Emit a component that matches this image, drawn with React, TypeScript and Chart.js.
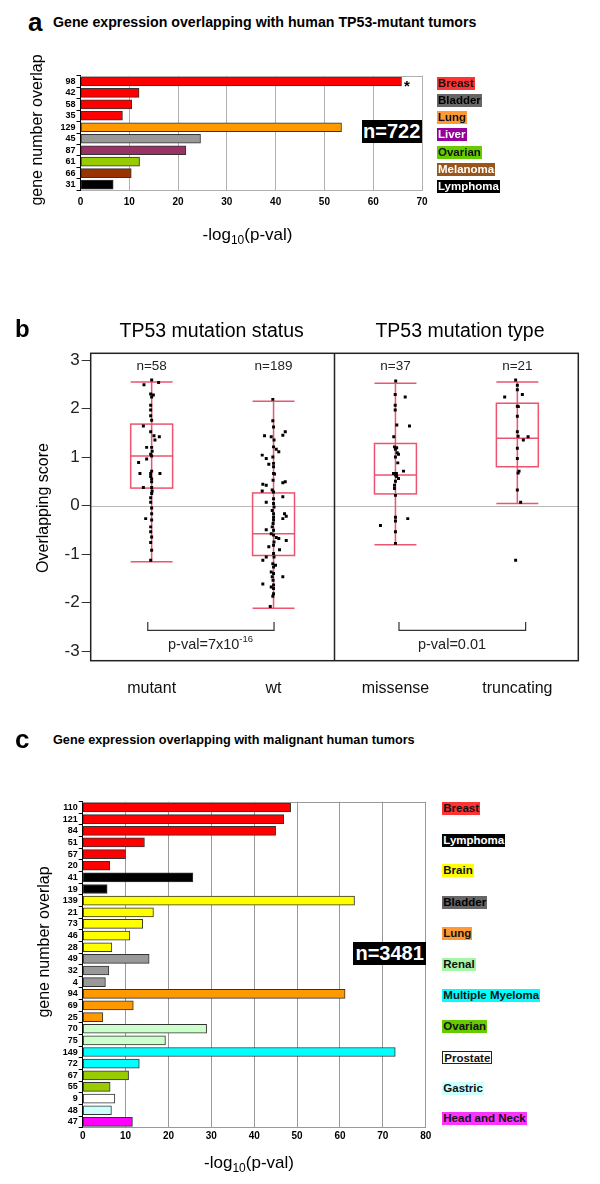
import React, { useEffect, useRef } from 'react';
import { Chart, registerables } from 'chart.js';

Chart.register(...registerables);

const FONT = '"Liberation Sans", Arial, Helvetica, sans-serif';

// ---------------- Panel a data ----------------
const aTitle = 'Gene expression overlapping with human TP53-mutant tumors';
const aOverlap = [98, 42, 58, 35, 129, 45, 87, 61, 66, 31];
const aLogP = [65.8, 12.0, 10.5, 8.6, 53.5, 24.6, 21.6, 12.1, 10.4, 6.7];
const aTumor = ['Breast', 'Breast', 'Breast', 'Breast', 'Lung', 'Bladder', 'Liver', 'Ovarian', 'Melanoma', 'Lymphoma'];
const aLegend = ['Breast', 'Bladder', 'Lung', 'Liver', 'Ovarian', 'Melanoma', 'Lymphoma'];
const aTotal = 'n=722';
const aXMax = 70;

// ---------------- Panel b data ----------------
const bGroupTitles = ['TP53 mutation status', 'TP53 mutation type'];
const bCategories = ['mutant', 'wt', 'missense', 'truncating'];
const bCounts = ['n=58', 'n=189', 'n=37', 'n=21'];
const bWhiskerLow = [-1.16, -2.12, -0.81, 0.04];
const bQ1 = [0.36, -1.03, 0.24, 0.8];
const bMedian = [1.02, -0.58, 0.63, 1.39];
const bQ3 = [1.68, 0.26, 1.28, 2.11];
const bWhiskerHigh = [2.55, 2.15, 2.52, 2.55];
const bYTicks = [3, 2, 1, 0, -1, -2, -3];
const bPLeft = 'p-val=7x10';
const bPLeftExp = '-16';
const bPRight = 'p-val=0.01';

const bMutantScores = [2.59, 2.54, 2.49, 2.3, 2.28, 2.24, 2.07, 1.97, 1.85, 1.64, 1.52, 1.44, 1.42, 1.35, 1.2, 1.2, 1.06, 1.02, 0.96, 0.89, 0.71, 0.66, 0.66, 0.66, 0.6, 0.49, 0.37, 0.37, 0.25, 0.16, 0.07, -0.17, -0.27, -0.3, -0.44, -0.54, -0.76, -1.13, 1.76, 1.12, 0.55, 0.3, -0.05, -0.65, -0.92];
const bMutantJitter = [0, 0.057, -0.063, -0.008, 0.014, 0, -0.008, -0.008, -0.008, -0.068, -0.008, 0.019, 0.063, 0.027, -0.041, 0, -0.008, 0, -0.041, -0.107, 0, -0.008, -0.096, 0.068, -0.008, 0, -0.068, 0, 0, -0.008, -0.008, 0, -0.049, 0, -0.008, -0.008, -0.008, -0.008, 0, 0.004, 0, 0.004, 0, 0, 0];

const bWtScores = [2.19, 1.75, 1.44, 1.42, 1.45, 1.52, 1.21, 1.16, 1.11, 1.04, 0.97, 1.0, 0.87, 0.85, 0.66, 0.65, 0.44, 0.42, 0.47, 0.49, 0.32, 0.28, 0.3, 0.18, 0.07, 0.04, -0.1, -0.17, -0.17, -0.22, -0.27, -0.3, -0.44, -0.5, -0.58, -0.61, -0.66, -0.68, -0.72, -0.85, -0.91, -0.99, -1.06, -1.13, -1.2, -1.23, -1.37, -1.4, -1.47, -1.47, -1.62, -1.64, -1.68, -1.82, -1.87, -2.08, 1.62, 1.35, 0.8, 0.52, 0.14, -0.03, -0.24, -0.37, -0.51, -0.75, -0.82, -1.06, -1.27, -1.54, -1.71];
const bWtJitter = [-0.006, -0.006, -0.074, -0.019, 0.076, 0.096, 0, 0.022, 0.043, -0.093, -0.06, -0.006, 0, -0.039, 0, 0.008, -0.088, -0.06, 0.076, 0.096, -0.011, 0, -0.093, 0.076, -0.06, 0, -0.011, 0, 0.09, 0.104, 0.076, 0, -0.011, -0.06, -0.019, 0, 0.022, 0.043, 0.104, -0.039, 0.049, 0, -0.06, -0.088, -0.006, 0.016, -0.019, 0, -0.011, 0.076, -0.088, 0, -0.019, 0, -0.006, -0.027, 0, 0.004, 0, -0.004, 0, 0.004, 0, -0.004, 0, 0.004, 0, 0.004, 0, -0.004, 0];

const bMissenseScores = [2.57, 2.24, 2.29, 2.07, 1.97, 1.66, 1.64, 1.42, 1.21, 1.16, 1.09, 1.06, 1.0, 0.88, 0.71, 0.66, 0.63, 0.56, 0.42, 0.35, 0.21, -0.24, -0.32, -0.27, -0.41, -0.54, -0.78, 0.66, 0.5, 1.19, 0.6];
const bMissenseJitter = [0.002, 0.08, -0.002, -0.002, -0.002, 0.011, 0.115, -0.014, -0.008, 0, 0.014, 0.025, 0, 0.019, 0.066, -0.016, 0, 0.025, -0.008, -0.008, 0, 0, 0, 0.101, -0.123, 0, 0, 0.008, 0, 0.01, 0.01];

const bTruncScores = [2.59, 2.48, 2.39, 2.24, 2.29, 2.05, 2.04, 1.84, 1.52, 1.43, 1.35, 1.42, 1.18, 0.97, 0.71, 0.67, 0.32, 0.07, -1.13];
const bTruncJitter = [-0.014, 0, 0, -0.104, 0.041, 0, 0.008, 0, 0, 0.006, 0.049, 0.088, 0, 0, 0.014, 0.006, 0, 0.027, -0.014];

const bScores = [bMutantScores, bWtScores, bMissenseScores, bTruncScores];
const bJitter = [bMutantJitter, bWtJitter, bMissenseJitter, bTruncJitter];

// ---------------- Panel c data ----------------
const cTitle = 'Gene expression overlapping with malignant human tumors';
const cOverlap = [110, 121, 84, 51, 57, 20, 41, 19, 139, 21, 73, 46, 28, 49, 32, 4, 94, 69, 25, 70, 75, 149, 72, 67, 55, 9, 48, 47];
const cLogP = [48.5, 46.9, 45.0, 14.4, 10.0, 6.3, 25.7, 5.7, 63.4, 16.5, 14.0, 11.0, 6.8, 15.5, 6.1, 5.3, 61.2, 11.8, 4.7, 28.9, 19.3, 72.9, 13.2, 10.7, 6.4, 7.5, 6.7, 11.6];
const cTumor = ['Breast', 'Breast', 'Breast', 'Breast', 'Breast', 'Breast', 'Lymphoma', 'Lymphoma', 'Brain', 'Brain', 'Brain', 'Brain', 'Brain', 'Bladder', 'Bladder', 'Bladder', 'Lung', 'Lung', 'Lung', 'Renal', 'Renal', 'Multiple Myeloma', 'Multiple Myeloma', 'Ovarian', 'Ovarian', 'Prostate', 'Gastric', 'Head and Neck'];
const cLegend = ['Breast', 'Lymphoma', 'Brain', 'Bladder', 'Lung', 'Renal', 'Multiple Myeloma', 'Ovarian', 'Prostate', 'Gastric', 'Head and Neck'];
const cTotal = 'n=3481';
const cXMax = 80;

const yAxisTitle = 'gene number overlap';
const bYAxisTitle = 'Overlapping score';

// ---------------- styles ----------------
const BAR_COLOR: Record<string, string> = {
  Breast: '#ff0000', Lung: '#ff9900', Bladder: '#999999', Liver: '#993366', Ovarian: '#99cc00',
  Melanoma: '#993300', Lymphoma: '#000000', Brain: '#ffff00', Renal: '#ccffcc',
  'Multiple Myeloma': '#00ffff', Prostate: '#ffffff', Gastric: '#ccffff', 'Head and Neck': '#ff00ff',
};
const TAG_STYLE: Record<string, { bg: string; color: string; border?: string }> = {
  Breast: { bg: '#ff3333', color: '#111' },
  Bladder: { bg: '#666666', color: '#000' },
  Lung: { bg: '#ff9933', color: '#111' },
  Liver: { bg: '#990099', color: '#fff' },
  Ovarian: { bg: '#66cc00', color: '#111' },
  Melanoma: { bg: '#99561a', color: '#fff' },
  Lymphoma: { bg: '#000000', color: '#fff' },
  Brain: { bg: '#ffff00', color: '#111' },
  Renal: { bg: '#a6f5a6', color: '#111' },
  'Multiple Myeloma': { bg: '#00ffff', color: '#111' },
  Prostate: { bg: '#ffffff', color: '#111', border: '1px solid #222' },
  Gastric: { bg: '#ccffff', color: '#111' },
  'Head and Neck': { bg: '#ff33ff', color: '#111' },
};
const BOX_COLOR = '#ec5470';

const topBorderPlugin = {
  id: 'topBorder',
  afterDraw(chart: any) {
    const { ctx, chartArea: a } = chart;
    ctx.save();
    ctx.strokeStyle = chart.options.plugins.topBorder.color;
    ctx.lineWidth = 1;
    ctx.beginPath();
    ctx.moveTo(a.left, Math.round(a.top) + 0.5);
    ctx.lineTo(a.right, Math.round(a.top) + 0.5);
    ctx.stroke();
    ctx.restore();
  },
};

function makeBarChart(
  canvas: HTMLCanvasElement, labels: number[], values: number[], colors: string[], xMax: number,
  padTop: number, padRight: number, yWidth: number, xHeight: number, tickPad: number, gridColor: string,
) {
  return new Chart(canvas, {
    type: 'bar',
    data: {
      labels: labels.map(String),
      datasets: [{
        data: values, backgroundColor: colors, borderColor: '#333', borderWidth: 1,
        borderSkipped: false, barThickness: 9,
      }],
    },
    options: {
      indexAxis: 'y', responsive: false, animation: false, devicePixelRatio: 1,
      layout: { padding: { left: 0, top: padTop, right: padRight, bottom: 0 } },
      plugins: { legend: { display: false }, tooltip: { enabled: false }, topBorder: { color: gridColor } } as any,
      scales: {
        x: {
          min: 0, max: xMax,
          ticks: { stepSize: 10, color: '#000', padding: tickPad, font: { family: FONT, size: 10, weight: 'bold' } },
          grid: { color: gridColor, drawTicks: false },
          border: { color: gridColor },
          afterFit: (s: any) => { s.height = xHeight; },
        },
        y: {
          ticks: { color: '#000', padding: 1, autoSkip: false, font: { family: FONT, size: 9, weight: 'bold' } },
          grid: { drawOnChartArea: false, tickLength: 4, color: '#000' },
          border: { color: '#000' },
          afterFit: (s: any) => { s.width = yWidth; },
        },
      },
    } as any,
    plugins: [topBorderPlugin],
  });
}

const BOX_HALF = 0.172;

const boxPlugin = {
  id: 'boxes',
  beforeDatasetsDraw(chart: any) {
    const { ctx, chartArea: a, scales } = chart;
    const x = scales.x, y = scales.y;
    ctx.save();
    const y0 = Math.round(y.getPixelForValue(0)) + 0.5;
    ctx.strokeStyle = '#b8b8b8';
    ctx.lineWidth = 1;
    ctx.beginPath(); ctx.moveTo(a.left, y0); ctx.lineTo(a.right, y0); ctx.stroke();
    ctx.strokeStyle = BOX_COLOR;
    ctx.lineWidth = 1.5;
    bCategories.forEach((_, i) => {
      const cx = x.getPixelForValue(i);
      const l = x.getPixelForValue(i - BOX_HALF);
      const r = x.getPixelForValue(i + BOX_HALF);
      const py = (v: number) => y.getPixelForValue(v);
      ctx.beginPath();
      ctx.moveTo(cx, py(bWhiskerHigh[i])); ctx.lineTo(cx, py(bWhiskerLow[i]));
      ctx.moveTo(l, py(bWhiskerHigh[i])); ctx.lineTo(r, py(bWhiskerHigh[i]));
      ctx.moveTo(l, py(bWhiskerLow[i])); ctx.lineTo(r, py(bWhiskerLow[i]));
      ctx.moveTo(l, py(bMedian[i])); ctx.lineTo(r, py(bMedian[i]));
      ctx.stroke();
      ctx.strokeRect(l, py(bQ3[i]), r - l, py(bQ1[i]) - py(bQ3[i]));
    });
    ctx.restore();
  },
  afterDraw(chart: any) {
    const { ctx, chartArea: a, scales } = chart;
    const x = scales.x, y = scales.y;
    ctx.save();
    ctx.strokeStyle = '#222';
    ctx.lineWidth = 1.5;
    ctx.strokeRect(a.left, a.top, a.right - a.left, a.bottom - a.top);
    const dx = x.getPixelForValue(1.5);
    ctx.beginPath(); ctx.moveTo(dx, a.top); ctx.lineTo(dx, a.bottom); ctx.stroke();
    ctx.fillStyle = '#222';
    ctx.font = `13.5px ${FONT}`;
    ctx.textAlign = 'center';
    ctx.textBaseline = 'alphabetic';
    bCounts.forEach((t, i) => ctx.fillText(t, x.getPixelForValue(i), y.getPixelForValue(2.79)));
    ctx.strokeStyle = '#333';
    ctx.lineWidth = 1.2;
    const by = y.getPixelForValue(-2.574);
    const bt = y.getPixelForValue(-2.4);
    const bracket = (x1: number, x2: number) => {
      const p1 = x.getPixelForValue(x1), p2 = x.getPixelForValue(x2);
      ctx.beginPath();
      ctx.moveTo(p1, bt); ctx.lineTo(p1, by); ctx.lineTo(p2, by); ctx.lineTo(p2, bt);
      ctx.stroke();
    };
    bracket(-0.032, 1.004);
    bracket(2.029, 3.068);
    const base = y.getPixelForValue(-2.956);
    ctx.textAlign = 'left';
    ctx.font = `14.5px ${FONT}`;
    const w1 = ctx.measureText(bPLeft).width;
    ctx.font = `9.5px ${FONT}`;
    const w2 = ctx.measureText(bPLeftExp).width;
    const lx = x.getPixelForValue(0.483) - (w1 + w2) / 2;
    ctx.font = `14.5px ${FONT}`;
    ctx.fillText(bPLeft, lx, base);
    ctx.font = `9.5px ${FONT}`;
    ctx.fillText(bPLeftExp, lx + w1, base - 7);
    ctx.font = `14.5px ${FONT}`;
    ctx.textAlign = 'center';
    ctx.fillText(bPRight, x.getPixelForValue(2.464), base);
    ctx.restore();
  },
};

function makeBoxChart(canvas: HTMLCanvasElement) {
  return new Chart(canvas, {
    type: 'scatter',
    data: {
      datasets: bScores.map((scores, i) => ({
        data: scores.map((s, j) => ({ x: i + bJitter[i][j], y: s })),
        pointStyle: 'rect', pointRadius: 2.1, backgroundColor: '#000', borderWidth: 0,
      })),
    },
    options: {
      responsive: false, animation: false, devicePixelRatio: 1,
      layout: { padding: { left: 0, top: 53.3, right: 21.7, bottom: 0 } },
      plugins: { legend: { display: false }, tooltip: { enabled: false } },
      scales: {
        x: {
          type: 'linear', min: -0.5, max: 3.5,
          afterBuildTicks: (s: any) => { s.ticks = bCategories.map((_, i) => ({ value: i })); },
          ticks: {
            callback: (v: any) => bCategories[Math.round(Number(v))] ?? '',
            color: '#111', padding: 18, font: { family: FONT, size: 16 }, maxRotation: 0, autoSkip: false,
          },
          grid: { display: false, drawTicks: false },
          border: { display: false },
          afterFit: (s: any) => { s.height = 39.3; },
        },
        y: {
          min: -3.2, max: 3.14,
          afterBuildTicks: (s: any) => { s.ticks = bYTicks.map((v) => ({ value: v })); },
          ticks: { color: '#222', padding: 2, font: { family: FONT, size: 17 }, autoSkip: false },
          grid: { drawOnChartArea: false, tickLength: 9, color: '#333' },
          border: { display: false },
          afterFit: (s: any) => { s.width = 90.7; },
        },
      },
    } as any,
    plugins: [boxPlugin],
  });
}

function Txt(props: { x: number; y: number; size: number; bold?: boolean; align?: string; color?: string; children: any }) {
  const { x, y, size, bold, align = 'left', color = '#000', children } = props;
  const tx = align === 'center' ? '-50%' : align === 'right' ? '-100%' : '0';
  return (
    <div style={{
      position: 'absolute', left: x, top: y - 0.8465 * size, fontSize: size, lineHeight: 1,
      fontWeight: bold ? 'bold' : 'normal', color, whiteSpace: 'nowrap', fontFamily: FONT,
      transform: `translateX(${tx})`,
    }}>{children}</div>
  );
}

function VTxt(props: { cx: number; cy: number; size: number; children: any }) {
  return (
    <div style={{
      position: 'absolute', left: props.cx, top: props.cy, fontSize: props.size, lineHeight: 1,
      whiteSpace: 'nowrap', fontFamily: FONT, color: '#000',
      transform: 'translate(-50%, -50%) rotate(-90deg)',
    }}>{props.children}</div>
  );
}

function Tag(props: { x: number; cy: number; name: string }) {
  const st = TAG_STYLE[props.name];
  return (
    <div style={{
      position: 'absolute', left: props.x, top: props.cy - 6.5, height: 13, lineHeight: '13px',
      padding: '0 1px', background: st.bg, color: st.color, border: st.border, boxSizing: 'border-box',
      fontFamily: FONT, fontWeight: 'bold', fontSize: 11.5, whiteSpace: 'nowrap',
    }}>{props.name}</div>
  );
}

function Badge(props: { x: number; y: number; w: number; h: number; text: string }) {
  return (
    <div style={{
      position: 'absolute', left: props.x, top: props.y, width: props.w, height: props.h,
      background: '#000', color: '#fff', fontFamily: FONT, fontWeight: 'bold', fontSize: 20,
      lineHeight: `${props.h}px`, textAlign: 'center', whiteSpace: 'nowrap',
    }}>{props.text}</div>
  );
}

function LogTitle(props: { cx: number; y: number }) {
  return (
    <Txt x={props.cx} y={props.y} size={17} align="center">
      -log<span style={{ fontSize: 12, verticalAlign: '-4px', lineHeight: 0 }}>10</span>(p-val)
    </Txt>
  );
}

export default function App() {
  const refA = useRef<HTMLCanvasElement>(null);
  const refB = useRef<HTMLCanvasElement>(null);
  const refC = useRef<HTMLCanvasElement>(null);

  useEffect(() => {
    const charts: Chart[] = [];
    charts.push(makeBarChart(refA.current!, aOverlap, aLogP, aTumor.map((t) => BAR_COLOR[t]), aXMax,
      15.6, 18, 80.5, 69.6, 6, '#b0b0b0'));
    charts.push(makeBoxChart(refB.current!));
    charts.push(makeBarChart(refC.current!, cOverlap, cLogP, cTumor.map((t) => BAR_COLOR[t]), cXMax,
      21.7, 14.3, 82.7, 56.3, 3, '#999999'));
    return () => charts.forEach((c) => c.destroy());
  }, []);

  const aLegendY = [83.3, 100.5, 117.7, 134.9, 152.1, 169.3, 186.5];
  const cLegendY = [808.3, 840, 870.7, 902.3, 933.3, 964, 995, 1026.7, 1057.7, 1088.3, 1118.3];

  return (
    <div style={{ position: 'absolute', left: 0, top: 0, width: 600, height: 1184, background: '#fff', overflow: 'hidden' }}>
      <canvas ref={refA} width={440} height={200} style={{ position: 'absolute', left: 0, top: 60 }} />
      <canvas ref={refB} width={600} height={400} style={{ position: 'absolute', left: 0, top: 300 }} />
      <canvas ref={refC} width={440} height={404} style={{ position: 'absolute', left: 0, top: 780 }} />

      {/* Panel a */}
      <Txt x={28} y={31.5} size={26} bold>a</Txt>
      <Txt x={53} y={27.3} size={14.2} bold>{aTitle}</Txt>
      <VTxt cx={36.5} cy={130} size={16}>{yAxisTitle}</VTxt>
      <LogTitle cx={247.5} y={240} />
      <Txt x={404} y={90.5} size={15} bold>*</Txt>
      <Badge x={361.7} y={120} w={60} h={23.3} text={aTotal} />
      {aLegend.map((n, i) => <Tag key={n} x={437} cy={aLegendY[i]} name={n} />)}

      {/* Panel b */}
      <Txt x={15} y={337} size={24} bold>b</Txt>
      <Txt x={211.7} y={337.5} size={19.5} align="center">{bGroupTitles[0]}</Txt>
      <Txt x={460} y={337.5} size={19.5} align="center">{bGroupTitles[1]}</Txt>
      <VTxt cx={43} cy={507.5} size={16}>{bYAxisTitle}</VTxt>

      {/* Panel c */}
      <Txt x={15} y={748} size={26} bold>c</Txt>
      <Txt x={53} y={745} size={12.7} bold>{cTitle}</Txt>
      <VTxt cx={44} cy={941.7} size={16}>{yAxisTitle}</VTxt>
      <LogTitle cx={249} y={1168} />
      <Badge x={353.3} y={942.3} w={72.7} h={22.7} text={cTotal} />
      {cLegend.map((n, i) => <Tag key={n} x={442.3} cy={cLegendY[i]} name={n} />)}
    </div>
  );
}
